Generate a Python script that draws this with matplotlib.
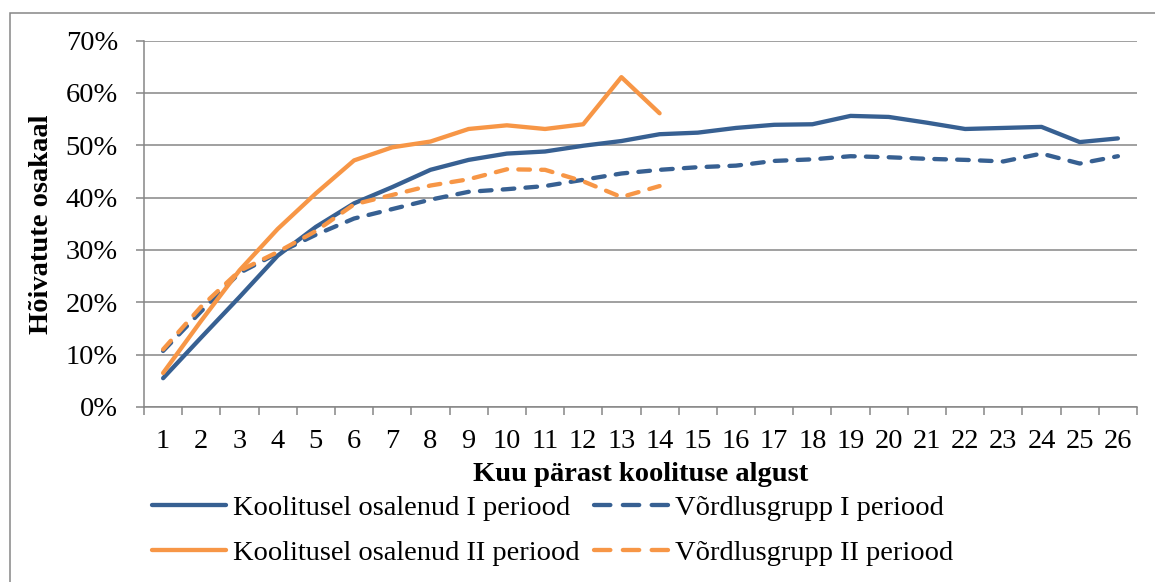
import numpy as np
import matplotlib
matplotlib.use("Agg")
import matplotlib.pyplot as plt
from matplotlib.patches import Rectangle
from matplotlib.lines import Line2D
from matplotlib.ticker import FixedLocator

plt.rcParams["font.family"] = ["Liberation Serif", "DejaVu Serif"]

# andmed
kuud = [str(i) for i in range(1, 27)]
koolitus_I = [5.5, 13.3, 21.0, 28.9, 34.4, 38.9, 42.0, 45.3, 47.2, 48.4, 48.8, 49.9, 50.8,
              52.1, 52.4, 53.3, 53.9, 54.0, 55.6, 55.4, 54.3, 53.1, 53.3, 53.5, 50.6, 51.3]
vordlus_I = [10.7, 18.3, 25.6, 29.4, 32.9, 36.0, 37.8, 39.6, 41.1, 41.6, 42.2, 43.4, 44.6,
             45.3, 45.8, 46.1, 47.0, 47.3, 47.9, 47.7, 47.4, 47.2, 46.9, 48.4, 46.5, 47.9]
koolitus_II = [6.5, 16.5, 26.1, 34.0, 40.8, 47.1, 49.6, 50.7, 53.1, 53.8, 53.1, 54.0, 63.0, 56.1]
vordlus_II = [11.0, 19.2, 26.0, 29.6, 33.6, 38.7, 40.5, 42.3, 43.5, 45.4, 45.3, 43.1, 40.1, 42.2]
y_ticks = [0, 10, 20, 30, 40, 50, 60, 70]
sildid = ["Koolitusel osalenud I periood", "Võrdlusgrupp I periood",
          "Koolitusel osalenud II periood", "Võrdlusgrupp II periood"]

sinine = "#376092"
oranz = "#F79646"
hall = "#868686"
fs = 20.5

fig = plt.figure(figsize=(11.55, 5.82), dpi=100)
ax = fig.add_axes([144 / 1155, 1 - 407 / 582, (1137 - 144) / 1155, (407 - 40.5) / 582])

x1 = np.arange(len(koolitus_I))
x2 = np.arange(len(koolitus_II))
lw = 3.1
ax.plot(x1, koolitus_I, color=sinine, lw=lw, solid_capstyle="round", solid_joinstyle="round")
ax.plot(x1, vordlus_I, color=sinine, lw=lw, dashes=(2.7, 2.6), dash_capstyle="round")
ax.plot(x2, koolitus_II, color=oranz, lw=lw, solid_capstyle="round", solid_joinstyle="round")
ax.plot(x2, vordlus_II, color=oranz, lw=lw, dashes=(2.7, 2.6), dash_capstyle="round")

ax.set_xlim(-0.5, len(kuud) - 0.5)
ax.set_ylim(0, 70)
ax.set_xticks(x1)
ax.set_xticklabels(kuud, fontsize=fs)
ax.xaxis.set_minor_locator(FixedLocator(np.arange(-0.5, len(kuud), 1)))
ax.tick_params(axis="x", which="major", length=0, pad=16)
ax.tick_params(axis="x", which="minor", length=5.8, width=1.1, color=hall, direction="out")

ax.set_yticks(y_ticks)
ax.set_yticklabels([f"{v}%" for v in y_ticks], fontsize=fs)
ax.tick_params(axis="y", length=5.8, width=1.1, color=hall, pad=13)

ax.grid(axis="y", color=hall, lw=1.1)
ax.set_axisbelow(True)
for s in ["top", "right"]:
    ax.spines[s].set_visible(False)
for s in ["left", "bottom"]:
    ax.spines[s].set_color(hall)
    ax.spines[s].set_linewidth(1.1)

ax.set_xlabel("Kuu pärast koolituse algust", fontsize=fs, fontweight="bold", labelpad=5.5)
fig.text(42 / 1155, 1 - 224 / 582, "Hõivatute osakaal", fontsize=fs, fontweight="bold",
         rotation=90, ha="center", va="center")

# legend (veerud: koolitus, võrdlus)
h1 = Line2D([], [], color=sinine, lw=lw, solid_capstyle="round")
h2 = Line2D([], [], color=sinine, lw=lw, dashes=(3.8, 2.9), dash_capstyle="round")
h3 = Line2D([], [], color=oranz, lw=lw, solid_capstyle="round")
h4 = Line2D([], [], color=oranz, lw=lw, dashes=(3.8, 2.9), dash_capstyle="round")
fig.legend([h1, h3, h2, h4], [sildid[0], sildid[2], sildid[1], sildid[3]],
           ncol=2, loc="upper left", bbox_to_anchor=(152 / 1155, 1 - 495 / 582),
           frameon=False, fontsize=fs, handlelength=2.6, handletextpad=0.25,
           columnspacing=0.5, labelspacing=0.68, borderpad=0, borderaxespad=0)

# diagrammi raam
fig.patches.append(Rectangle((9.5 / 1155, -0.1), 2, 1 - 13 / 582 + 0.1, transform=fig.transFigure,
                             fill=False, ec=hall, lw=1.1))

fig.savefig("out.png", dpi=100)
